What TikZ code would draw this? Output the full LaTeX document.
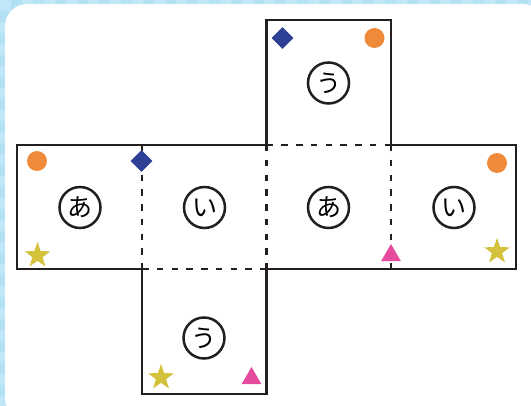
\documentclass[tikz,border=0pt]{standalone}
\usepackage{fontspec}
\newfontfamily\jp{Noto Sans CJK JP}
\usetikzlibrary{shapes.geometric}
\definecolor{bgA}{HTML}{B3E1F4}
\definecolor{bgB}{HTML}{BFE7F7}
\definecolor{ink}{HTML}{231F20}
\definecolor{orangeM}{HTML}{EF8A3A}
\definecolor{blueM}{HTML}{2E3F96}
\definecolor{yellowM}{HTML}{D5C23C}
\definecolor{pinkM}{HTML}{E64A9C}
\tikzset{
  edge/.style={draw=ink, line width=2.9pt, line join=miter},
  fold/.style={draw=ink, line width=2.9pt, dash pattern=on 6.5pt off 8.28pt},
  kana/.style={circle, draw=ink, line width=2.5pt, minimum size=41pt, inner sep=0pt, font=\jp\fontsize{25}{25}\selectfont},
  dot/.style={circle, fill=orangeM, minimum size=20pt, inner sep=0pt},
  gem/.style={diamond, fill=blueM, minimum size=22pt, inner sep=0pt},
  starM/.style={star, star points=5, star point ratio=2.5, fill=yellowM, minimum size=27pt, inner sep=0pt},
  tri/.style={regular polygon, regular polygon sides=3, fill=pinkM, minimum size=23pt, inner sep=0pt},
}
\begin{document}
\begin{tikzpicture}[x=1pt, y=-1pt]
\useasboundingbox (0,0) rectangle (531,406);
% background
\fill[bgA] (0,0) rectangle (531,406);
\foreach \i in {0,...,48} {
  \foreach \j in {0,...,37} {
    \pgfmathtruncatemacro{\p}{mod(\i+\j,2)}
    \ifnum\p=0 \fill[bgB] (\i*11,\j*11) rectangle ++(11,11);\fi
  }
}
\fill[white, rounded corners=22pt] (5,4) rectangle (545,420);
% grid coordinates
\coordinate (a0) at (17,145);
\coordinate (b0) at (142,145);
\coordinate (c0) at (266.5,145);
\coordinate (d0) at (391,145);
\coordinate (e0) at (516,145);
\coordinate (a1) at (17,269);
\coordinate (b1) at (142,269);
\coordinate (c1) at (266.5,269);
\coordinate (d1) at (391,269);
\coordinate (e1) at (516,269);
\coordinate (ct) at (266.5,20);
\coordinate (dt) at (391,20);
\coordinate (bb) at (142,394);
\coordinate (cb) at (266.5,394);
% fold lines
\path[fold] (b0) -- (b1);
\path[fold] (c0) -- (c1);
\path[fold] (d0) -- (d1);
\path[fold] (c0) -- (d0);
\path[fold] (b1) -- (c1);
% outline
\path[edge] (a0) -- (c0) -- (ct) -- (dt) -- (d0) -- (e0) -- (e1) -- (c1) -- (cb) -- (bb) -- (b1) -- (a1) -- cycle;
% faces
\node[kana] (f1) at (80,207.5) {あ};
\node[kana] (f2) at (204.5,207.5) {い};
\node[kana] (f3) at (328.5,207.5) {あ};
\node[kana] (f4) at (454,207.5) {い};
\node[kana] (f5) at (328.5,83) {う};
\node[kana] (f6) at (204,338) {う};
% markers
\node[dot] (o1) at (37,161) {};
\node[dot] (o2) at (374.5,38) {};
\node[dot] (o3) at (497,163) {};
\node[gem] (g1) at (141.5,161) {};
\node[gem] (g2) at (282.5,38) {};
\node[starM] (s1) at (37.5,255.5) {};
\node[starM] (s2) at (497,251.5) {};
\node[starM] (s3) at (161,377.5) {};
\node[tri] (t1) at (251.5,378.5) {};
\node[tri] (t2) at (391,255.5) {};
\end{tikzpicture}
\end{document}
